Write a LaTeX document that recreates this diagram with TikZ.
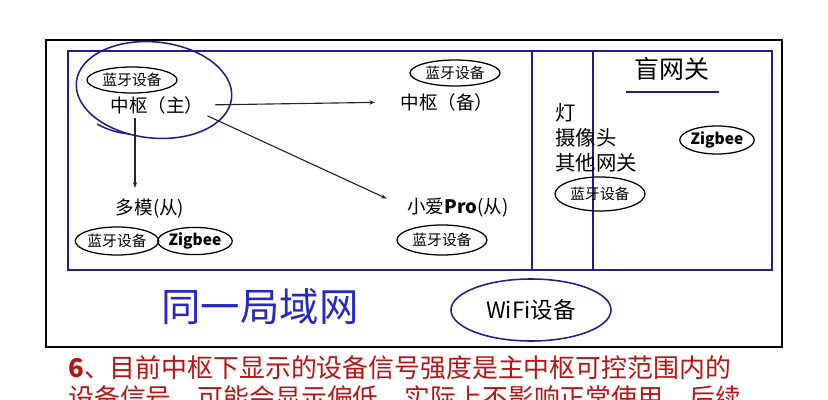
\documentclass[tikz,border=0pt]{standalone}
\usepackage{fontspec}
\setmainfont{Noto Sans CJK SC}
\usetikzlibrary{positioning, calc, arrows.meta, shapes.geometric}
\definecolor{lanblue}{RGB}{30,30,150}
\definecolor{textblue}{RGB}{40,40,200}
\definecolor{notered}{RGB}{185,20,20}

\begin{document}
\begin{tikzpicture}[
    x=0.025cm, y=-0.025cm,
    >=Stealth,
    dev/.style={draw, ellipse, line width=0.9pt, inner sep=0pt, font=\fontsize{10.5}{12}\selectfont},
    zig/.style={dev, font=\fontsize{11}{12}\selectfont\bfseries},
    lbl/.style={inner sep=0pt, font=\fontsize{13.2}{15}\selectfont},
    arr/.style={->, line width=0.8pt, color=black!85, arrows={-Stealth[length=4pt, width=3pt]}},
]
\useasboundingbox (0,0) rectangle (828,400);
\clip (0,0) rectangle (828,400);

% ===== Frames =====
\draw[line width=2pt] (46,40) rectangle (782,347);
\draw[lanblue, line width=1.4pt] (68,51) rectangle (772,270);
\draw[lanblue, line width=1.4pt] (532,51) -- (532,270);
\draw[lanblue, line width=1.4pt] (593,51) -- (593,270);

% ===== Main hub =====
\node[dev, minimum width=2.25cm, minimum height=0.65cm] (bt1) at (132,80) {蓝牙设备};
\node[lbl] (zhu) at (157,105) {中枢（主）};
\draw[lanblue, line width=1.1pt, rotate around={-6:(154,90)}] (154,90) ellipse [x radius=1.95cm, y radius=1.2cm];
\draw[lanblue, line width=1.1pt] (97,124) .. controls (108,130) and (118,133) .. (130,134);

% ===== Backup hub =====
\node[dev, minimum width=2.25cm, minimum height=0.65cm] (bt2) at (455,73) {蓝牙设备};
\node[lbl] (bei) at (447,102) {中枢（备）};

% ===== Slaves =====
\node[lbl] (duo) at (150,209) {多模(从)};
\node[dev, minimum width=2.0cm, minimum height=0.7cm] (bt3) at (117,241) {蓝牙设备};
\node[zig, minimum width=1.78cm, minimum height=0.68cm] (zg1) at (195,241) {Zigbee};

\node[lbl] (xiaoai) at (458,208) {小爱\textbf{Pro}(从)};
\node[dev, minimum width=2.25cm, minimum height=0.75cm] (bt4) at (442,240) {蓝牙设备};

% ===== Arrows =====
\draw[arr, shorten <=8pt, shorten >=18pt] (zhu.east) -- (bei.west);
\draw[arr, shorten <=3pt, shorten >=16pt] (zhu.south east) -- (xiaoai.west);
\draw[arr, shorten <=3pt, shorten >=8pt] ([xshift=-0.55cm]zhu.south) -- ([xshift=-0.55cm]zhu.south |- duo.north);

% ===== Other devices column =====
\node[anchor=west, align=left, inner sep=0pt, font=\fontsize{14.5}{17.7}\selectfont] (other) at (555,138) {灯\\摄像头\\其他网关};
\node[dev, minimum width=2.25cm, minimum height=0.85cm] (bt5) at (600,194) {蓝牙设备};

% ===== Blind gateway =====
\node[inner sep=0pt, font=\fontsize{17.7}{20}\selectfont] (mang) at (672,69) {盲网关};
\draw[lanblue, line width=1.1pt] ($(mang.south)+(-46,11)$) -- ($(mang.south)+(47,11)$);
\node[zig, minimum width=1.75cm, minimum height=0.7cm] (zg2) at (717,140) {Zigbee};

% ===== LAN =====
\node[inner sep=0pt, text=textblue, font=\fontsize{28}{30}\selectfont] (lan) at (260,307) {同一局域网};
\node[draw=lanblue, ellipse, line width=1.1pt, minimum width=4.0cm, minimum height=1.55cm, inner sep=0pt, font=\fontsize{16}{18}\selectfont] (wifi) at (531,310) {WiFi设备};

% ===== Note =====
\node[anchor=west, inner sep=0pt, text=notered, font=\fontsize{18.4}{20}\selectfont] (note1) at (68,368) {\textbf{6}、目前中枢下显示的设备信号强度是主中枢可控范围内的};
\node[anchor=west, inner sep=0pt, text=notered, font=\fontsize{18.4}{20}\selectfont] (note2) at (68,398) {设备信号，可能会显示偏低，实际上不影响正常使用，后续};

\end{tikzpicture}
\end{document}
